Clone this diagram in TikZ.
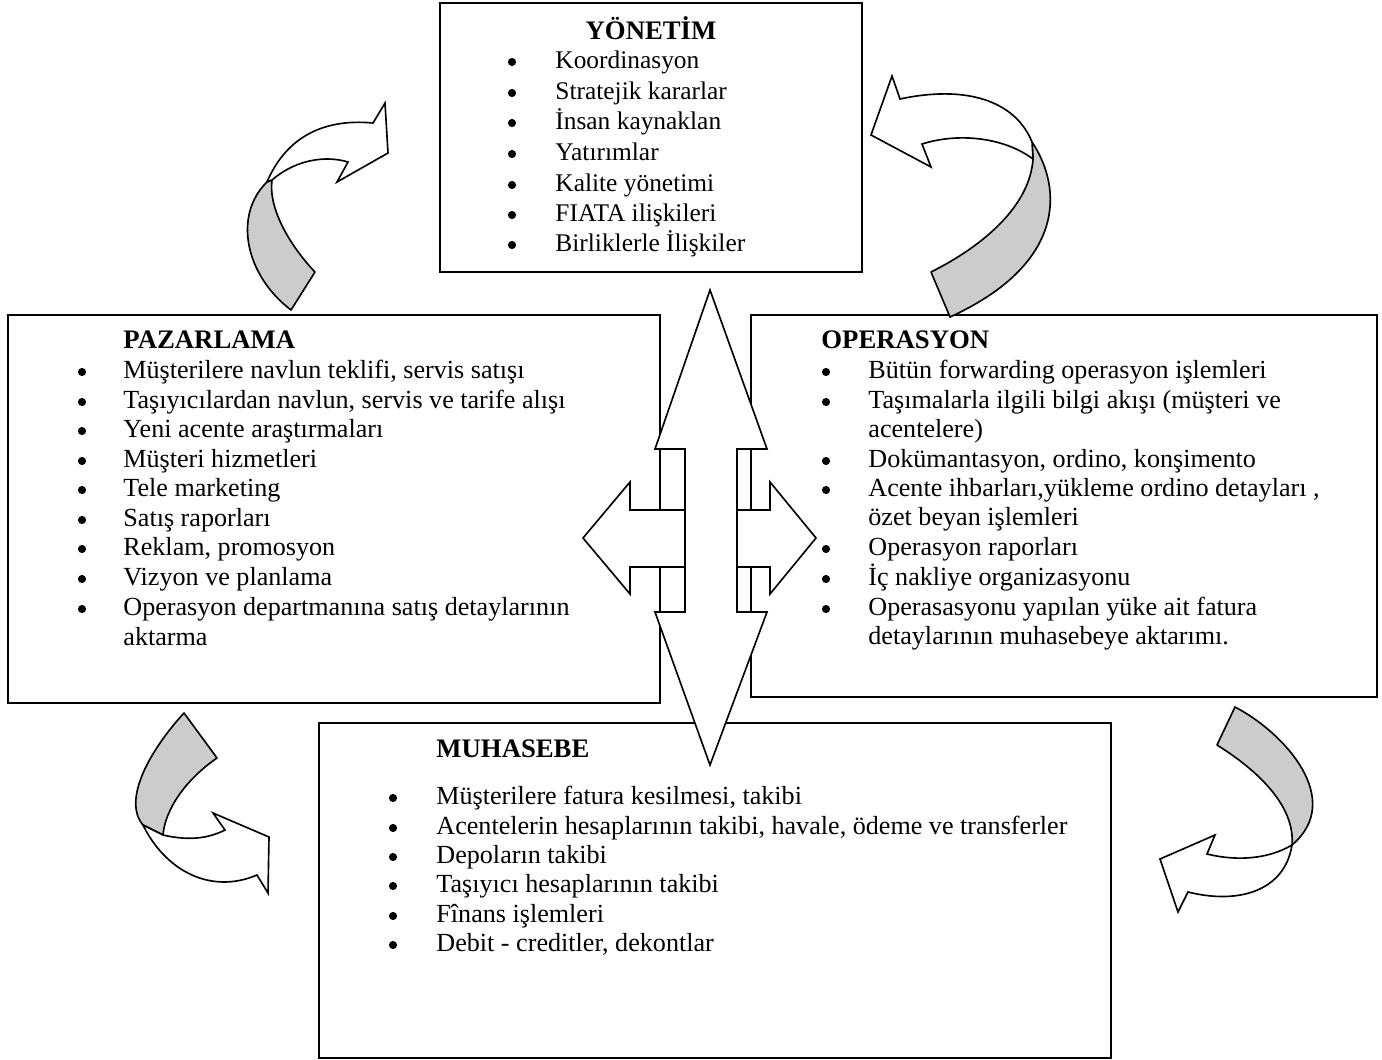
\documentclass[tikz,border=0pt]{standalone}
\usepackage{fontspec}
\setmainfont{Liberation Serif}
\definecolor{ribbon}{RGB}{204,204,204}
\newcommand\bul[2]{\fill (#1,#2-6) circle[radius=2pt];}
\begin{document}
\begin{tikzpicture}[x=0.49pt,y=-0.49pt,
  font=\fontsize{12.8}{14}\selectfont,
  box/.style={draw,line width=1pt,fill=white},
  txt/.style={anchor=base west,inner sep=0pt},
  ytxt/.style={txt,font=\fontsize{12.45}{14}\selectfont},
  ttl/.style={txt,font=\fontsize{13.1}{14}\selectfont\bfseries},
  arr/.style={draw,line width=0.8pt,fill=white,line join=miter},
  rib/.style={draw,line width=0.8pt,fill=ribbon,line join=round},
  ribw/.style={draw,line width=0.8pt,fill=white,line join=miter}]
\useasboundingbox (0,0) rectangle (1382,1059);
% boxes
\draw[box] (440,3) rectangle (862,272);
\draw[box] (8,315) rectangle (660,703);
\draw[box] (751,315) rectangle (1377,697);
\draw[box] (319,723) rectangle (1111,1058);
% YONETIM
\node[ttl,anchor=base] (yt) at (651,39) {YÖNETİM};
\foreach \yy/\tt/\nm in {68/Koordinasyon/y1,99/Stratejik kararlar/y2,129/İnsan kaynaklan/y3,160/Yatırımlar/y4,191/Kalite yönetimi/y5,221/FIATA ilişkileri/y6,251/Birliklerle İlişkiler/y7}{
  \bul{512}{\yy}
  \node[ytxt] (\nm) at (555,\yy) {\tt};}
% PAZARLAMA
\node[ttl] (pt) at (123,348) {PAZARLAMA};
\foreach \yy/\tt/\nm in {378/{Müşterilere navlun teklifi, servis satışı}/p1,408/{Taşıyıcılardan navlun, servis ve tarife alışı}/p2,437/Yeni acente araştırmaları/p3,467/Müşteri hizmetleri/p4,496/Tele marketing/p5,526/Satış raporları/p6,555/{Reklam, promosyon}/p7,585/Vizyon ve planlama/p8,615/Operasyon departmanına satış detaylarının/p9}{
  \bul{82}{\yy}
  \node[txt] (\nm) at (123,\yy) {\tt};}
\node[txt] (p10) at (123,645) {aktarma};
% OPERASYON
\node[ttl] (ot) at (821,348) {OPERASYON};
\foreach \yy/\tt/\nm in {378/Bütün forwarding operasyon işlemleri/o1,408/Taşımalarla ilgili bilgi akışı (müşteri ve/o2,467/{Dokümantasyon, ordino, konşimento}/o4,496/{Acente ihbarları,yükleme ordino detayları ,}/o5,555/Operasyon raporları/o7,585/İç nakliye organizasyonu/o8,615/Operasasyonu yapılan yüke ait fatura/o9}{
  \bul{826}{\yy}
  \node[txt] (\nm) at (868,\yy) {\tt};}
\node[txt] (o3) at (868,437) {acentelere)};
\node[txt] (o6) at (868,525) {özet beyan işlemleri};
\node[txt] (o10) at (868,644) {detaylarının muhasebeye aktarımı.};
% MUHASEBE
\node[ttl] (mt) at (436,757) {MUHASEBE};
\foreach \yy/\tt/\nm in {804/{Müşterilere fatura kesilmesi, takibi}/m1,834/{Acentelerin hesaplarının takibi, havale, ödeme ve transferler}/m2,863/Depoların takibi/m3,892/Taşıyıcı hesaplarının takibi/m4,922/Fînans işlemleri/m5,951/{Debit - creditler, dekontlar}/m6}{
  \bul{393}{\yy}
  \node[txt] (\nm) at (436,\yy) {\tt};}
% central arrows
\draw[arr] (685,510) -- (630,510) -- (630,482) -- (583,538) -- (630,594) -- (630,567) -- (685,567);
\draw[arr] (737,510) -- (770,510) -- (770,482) -- (816,538) -- (770,594) -- (770,567) -- (737,567);
\draw[arr] (710,290) -- (767,449) -- (737,449) -- (737,612) -- (767,612) -- (710,765) -- (655,612) -- (685,612) -- (685,449) -- (655,449) -- cycle;
% curved arrow top-left
\draw[rib] (291,310) .. controls (245,275) and (233,215) .. (267,182) -- (272,180) .. controls (268,210) and (292,248) .. (315,272) -- cycle;
\draw[ribw] (267,182) .. controls (285,140) and (320,118) .. (373,123) -- (385,103) -- (388,153) -- (337,182) -- (348,162) .. controls (325,155) and (295,160) .. (272,180) -- cycle;
% curved arrow top-right
\draw[rib] (1032,142) .. controls (1064,190) and (1064,265) .. (950,317) -- (931,272) .. controls (985,245) and (1030,205) .. (1033,159) -- cycle;
\draw[ribw] (1032,142) .. controls (1015,100) and (965,85) .. (900,99) -- (892,76) -- (871,135) -- (931,167) -- (922,144) .. controls (960,132) and (1005,138) .. (1033,159) -- cycle;
% curved arrow bottom-left
\draw[rib] (184,713) .. controls (150,750) and (122,800) .. (143,825) -- (163,835) .. controls (165,810) and (185,780) .. (217,758) -- cycle;
\draw[ribw] (143,825) .. controls (165,870) and (210,895) .. (257,875) -- (268,893) -- (269,837) -- (213,813) -- (225,830) .. controls (205,840) and (185,840) .. (163,835) -- cycle;
% curved arrow bottom-right
\draw[rib] (1235,707) .. controls (1285,733) and (1345,800) .. (1292,845) .. controls (1295,810) and (1265,775) .. (1217,745) -- cycle;
\draw[ribw] (1292,845) .. controls (1285,890) and (1240,905) .. (1188,892) -- (1178,912) -- (1160,859) -- (1215,835) -- (1207,854) .. controls (1240,862) and (1270,858) .. (1292,845) -- cycle;
\end{tikzpicture}
\end{document}
